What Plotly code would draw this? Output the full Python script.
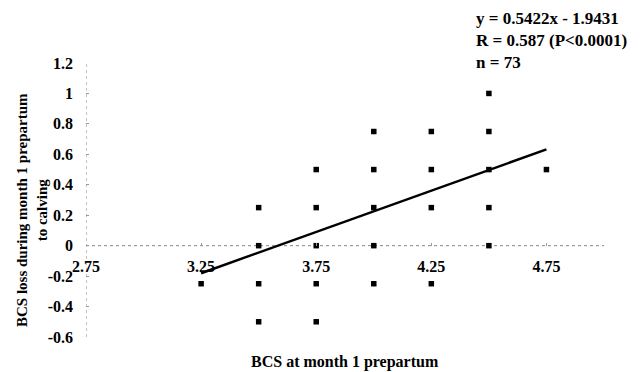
import plotly.graph_objects as go

# BCS at month 1 prepartum vs. BCS loss to calving (distinct observed pairs)
bcs_prepartum = [3.25,
                 3.5, 3.5, 3.5, 3.5,
                 3.75, 3.75, 3.75, 3.75, 3.75,
                 4.0, 4.0, 4.0, 4.0, 4.0,
                 4.25, 4.25, 4.25, 4.25,
                 4.5, 4.5, 4.5, 4.5, 4.5,
                 4.75]
bcs_loss = [-0.25,
            0.25, 0.0, -0.25, -0.5,
            0.5, 0.25, 0.0, -0.25, -0.5,
            0.75, 0.5, 0.25, 0.0, -0.25,
            0.75, 0.5, 0.25, -0.25,
            1.0, 0.75, 0.5, 0.25, 0.0,
            0.5]

# Fitted regression: y = 0.5422x - 1.9431
slope = 0.5422
intercept = -1.9431
fit_x = [3.25, 4.75]
fit_y = [slope * v + intercept for v in fit_x]

x_ticks = [2.75, 3.25, 3.75, 4.25, 4.75]
x_ticktext = ["2.75", "3.25", "3.75", "4.25", "4.75"]
y_ticks = [1.2, 1.0, 0.8, 0.6, 0.4, 0.2, 0.0, -0.2, -0.4, -0.6]
y_ticktext = ["1.2", "1", "0.8", "0.6", "0.4", "0.2", "0", "-0.2", "-0.4", "-0.6"]

stats_lines = ["y = 0.5422x - 1.9431", "R = 0.587 (P<0.0001)", "n = 73"]

x_range = [2.75, 5.0]
y_range = [-0.6, 1.2]

serif = "Liberation Serif"

L, R, T, B = 86, 37, 63, 35
W, H = 641, 372
pw, ph = W - L - R, H - T - B

fig = go.Figure()
fig.add_trace(go.Scatter(
    x=bcs_prepartum, y=bcs_loss, mode="markers",
    marker=dict(symbol="square", size=5.5, color="black"),
    showlegend=False, hoverinfo="x+y"))
fig.add_trace(go.Scatter(
    x=fit_x, y=fit_y, mode="lines",
    line=dict(color="black", width=2.5),
    showlegend=False, hoverinfo="skip"))

# dotted axis lines
fig.add_shape(type="line", x0=x_range[0], x1=x_range[1], y0=0, y1=0,
              xref="x", yref="y", line=dict(color="#888888", width=1, dash="dot"),
              layer="below")
fig.add_shape(type="line", x0=x_range[0], x1=x_range[0], y0=y_range[0], y1=y_range[1],
              xref="x", yref="y", line=dict(color="#888888", width=1, dash="dot"),
              layer="below")

zero_pos = (0 - y_range[0]) / (y_range[1] - y_range[0])

fig.update_layout(
    width=W, height=H,
    margin=dict(l=L, r=R, t=T, b=B),
    paper_bgcolor="white", plot_bgcolor="white",
    font=dict(family=serif, color="black"),
    xaxis=dict(range=x_range, tickvals=x_ticks, ticktext=x_ticktext,
               anchor="free", position=zero_pos,
               showgrid=False, zeroline=False, showline=False,
               ticks="inside", ticklen=3, tickcolor="#999999",
               ticklabelstandoff=9,
               tickfont=dict(family=serif, size=16, weight="bold", color="black")),
    yaxis=dict(range=y_range, tickvals=y_ticks, ticktext=y_ticktext,
               showgrid=False, zeroline=False, showline=False,
               ticks="inside", ticklen=3, tickcolor="#999999",
               ticklabelstandoff=12,
               tickfont=dict(family=serif, size=16, weight="bold", color="black")),
)

# axis titles
fig.add_annotation(text="BCS at month 1 prepartum", xref="paper", yref="paper",
                   x=(345 - L) / pw, y=-(362 - (H - B)) / ph,
                   showarrow=False, xanchor="center", yanchor="middle",
                   font=dict(family=serif, size=16, weight="bold", color="black"))
fig.add_annotation(text="BCS loss during month 1 prepartum<br>to calving",
                   xref="paper", yref="paper",
                   x=-(L - 32) / pw, y=((H - B) - 210) / ph,
                   textangle=-90, showarrow=False, xanchor="center", yanchor="middle",
                   font=dict(family=serif, size=15, weight="bold", color="black"))

# regression statistics
fig.add_annotation(text="<br>".join(stats_lines), xref="paper", yref="paper",
                   x=(474 - L) / pw, y=1 + (T - 7) / ph,
                   showarrow=False, xanchor="left", yanchor="top", align="left",
                   font=dict(family=serif, size=17, weight="bold", color="black"))

fig.write_html("out.html")
